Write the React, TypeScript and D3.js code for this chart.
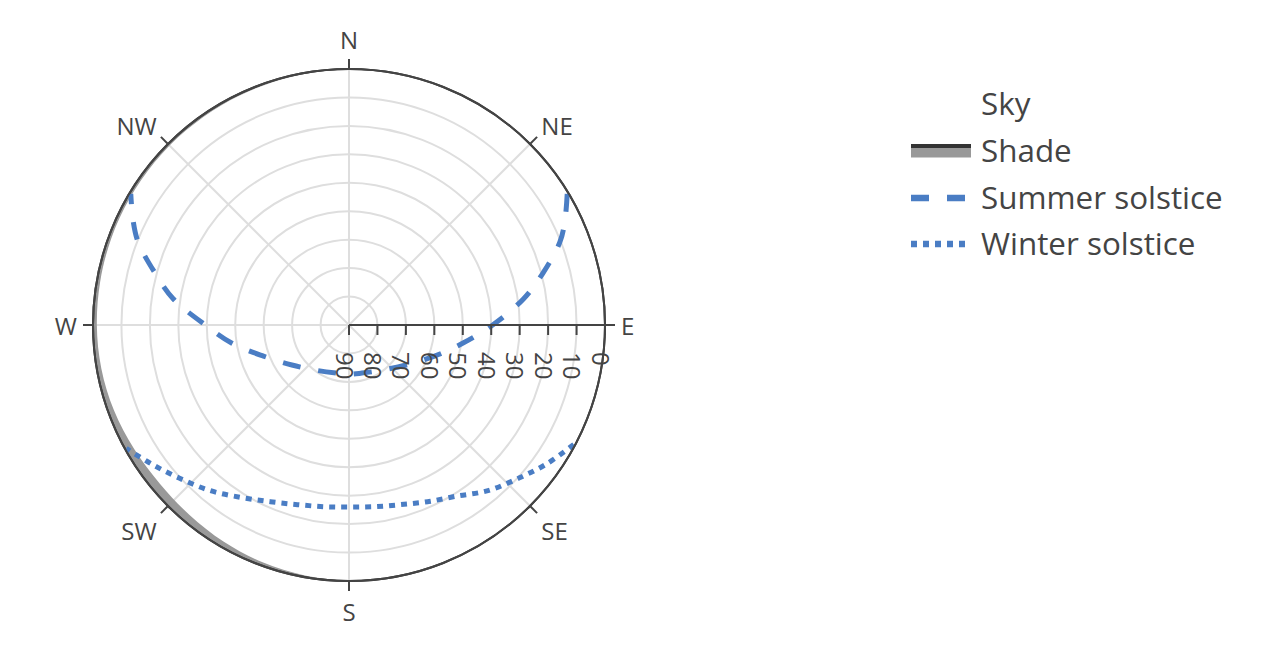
import React from "react";
import * as d3 from "d3";

// ---- data ----
const compassLabels = ["N", "NE", "E", "SE", "S", "SW", "W", "NW"];
const compassAngles = [0, 45, 90, 135, 180, 225, 270, 315];
const radialTicks = [90, 80, 70, 60, 50, 40, 30, 20, 10, 0];
const gridLevels = [80, 70, 60, 50, 40, 30, 20, 10];

// horizon profile (azimuth deg, elevation deg)
const horizonAz = [0, 10, 20, 30, 40, 50, 60, 70, 80, 90, 100, 110, 120, 130, 140, 150, 160, 170, 180, 190, 200, 210, 220, 230, 240, 250, 260, 270, 280, 290, 300, 310, 320, 330, 340, 350];
const horizonElev = [0.25, 0.05, 0, 0, 0, 0, 0, 0, 0, 0, 0, 0, 0, 0, 0, 0.4, 0.25, 0.1, 0.3, 0.6, 1.2, 2.0, 2.8, 3.2, 2.8, 2.1, 1.6, 1.35, 1.2, 1.05, 0.95, 0.85, 0.75, 0.65, 0.55, 0.4];

// summer solstice sun path
const summerAz = [59, 64, 68.5, 75, 81.5, 90, 99, 110, 125, 145, 165, 180, 195, 215, 235, 250, 261, 270, 278.5, 285, 291.5, 296, 301];
const summerElev = [0.5, 5.5, 10.3, 19.4, 28, 39.5, 49.4, 58, 65.5, 70.5, 72.5, 72.7, 72.5, 70.5, 65.5, 58, 48.5, 39.5, 27.5, 19.4, 10.3, 5.5, 0.5];

// winter solstice sun path
const winterAz = [118, 125, 132, 140, 148, 156, 164, 172, 180, 188, 196, 204, 212, 220, 228, 235, 241];
const winterElev = [0.5, 5, 9.6, 14, 19, 22, 24.3, 25.5, 26, 25.5, 24.3, 22, 18.5, 14, 9.6, 5, 0.5];

const legendNames = ["Sky", "Shade", "Summer solstice", "Winter solstice"];

// ---- layout ----
const W = 1280;
const H = 654;
const cx = 349;
const cy = 325;
const R = 256;
const FONT = "'Open Sans', 'DejaVu Sans', sans-serif";
const TEXT = "#444";
const BLUE = "#4a7dc4";
const GRID = "#dedede";
const AXIS = "#444";
const LEG_FS = 31.4;

export default function App() {
  const r = d3.scaleLinear().domain([90, 0]).range([0, R]);
  const rad = (deg: number) => (deg * Math.PI) / 180;

  const pts = (az: number[], el: number[]) => az.map((a, i) => [a, el[i]] as [number, number]);

  const line = d3
    .lineRadial<[number, number]>()
    .angle((d) => rad(d[0]))
    .radius((d) => r(d[1]))
    .curve(d3.curveCatmullRom.alpha(0.5));

  const closedLine = d3
    .lineRadial<[number, number]>()
    .angle((d) => rad(d[0]))
    .radius((d) => r(d[1]))
    .curve(d3.curveCatmullRomClosed.alpha(0.5));

  const fullCircle = d3.arc()({
    innerRadius: 0,
    outerRadius: r(0),
    startAngle: 0,
    endAngle: 2 * Math.PI,
  } as any) as string;

  const shadePath = fullCircle + closedLine(pts(horizonAz, horizonElev));

  const legendX = 911;
  const legendTextX = 981;
  const legendRows = [104, 151, 198, 244];

  return (
    <svg
      width={W}
      height={H}
      style={{ position: "absolute", left: 0, top: 0, background: "#fff" }}
      fontFamily={FONT}
    >
      <g transform={`translate(${cx},${cy})`}>
        {/* grid circles */}
        {gridLevels.map((g) => (
          <circle key={g} r={r(g)} fill="none" stroke={GRID} strokeWidth={2} />
        ))}
        {/* angular grid lines */}
        {compassAngles.map((a) => (
          <line
            key={a}
            x1={0}
            y1={0}
            x2={r(0) * Math.sin(rad(a))}
            y2={-r(0) * Math.cos(rad(a))}
            stroke={GRID}
            strokeWidth={2}
          />
        ))}

        {/* shade */}
        <path d={shadePath} fill="#999" fillRule="evenodd" stroke="none" />
        <circle r={r(0)} fill="none" stroke="#333" strokeWidth={2} />

        {/* sun paths */}
        <path
          d={line(pts(summerAz, summerElev)) || ""}
          fill="none"
          stroke={BLUE}
          strokeWidth={5}
          strokeDasharray="18,18"
        />
        <path
          d={line(pts(winterAz, winterElev)) || ""}
          fill="none"
          stroke={BLUE}
          strokeWidth={5}
          strokeDasharray="6,6"
        />

        {/* angular axis line + ticks */}
        <circle r={r(0)} fill="none" stroke={AXIS} strokeWidth={2} />
        {compassAngles.map((a) => {
          const s = Math.sin(rad(a));
          const c = Math.cos(rad(a));
          return (
            <line
              key={"t" + a}
              x1={r(0) * s}
              y1={-r(0) * c}
              x2={(r(0) + 10) * s}
              y2={-(r(0) + 10) * c}
              stroke={AXIS}
              strokeWidth={2}
            />
          );
        })}
        {compassAngles.map((a, i) => {
          const s = Math.sin(rad(a));
          const c = Math.cos(rad(a));
          const ex = r(0) * s;
          const ey = -r(0) * c;
          let anchor: "start" | "middle" | "end" = "middle";
          let x = ex;
          if (s > 0.3) {
            anchor = "start";
            x = ex + 16 * s;
          } else if (s < -0.3) {
            anchor = "end";
            x = ex + 16 * s;
          }
          const capCenter = ey - 30 * c + 1.5 + 2.5 * Math.abs(Math.sin(rad(2 * a)));
          return (
            <text
              key={"l" + a}
              x={x}
              y={capCenter + 0.357 * 24}
              textAnchor={anchor}
              fontSize={24}
              fill={TEXT}
            >
              {compassLabels[i]}
            </text>
          );
        })}

        {/* radial axis */}
        <line x1={0} y1={0} x2={r(0)} y2={0} stroke={AXIS} strokeWidth={2} />
        {radialTicks.map((t) => (
          <line key={"rt" + t} x1={r(t)} y1={0} x2={r(t)} y2={10} stroke={AXIS} strokeWidth={2} />
        ))}
        {radialTicks.map((t) => (
          <text
            key={"rl" + t}
            transform={`translate(${r(t) - 5},${27}) rotate(90)`}
            dy="0.35em"
            textAnchor="start"
            fontSize={24}
            fill={TEXT}
          >
            {t}
          </text>
        ))}
      </g>

      {/* legend */}
      <g>
        {/* Sky: invisible symbol */}
        <text x={legendTextX} y={legendRows[0] + 0.357 * LEG_FS} fontSize={LEG_FS} fill={TEXT}>
          {legendNames[0]}
        </text>

        <rect x={legendX} y={legendRows[1] - 5} width={60} height={11.5} fill="#999" />
        <line x1={legendX} x2={legendX + 60} y1={legendRows[1] - 5} y2={legendRows[1] - 5} stroke="#333" strokeWidth={4} />
        <text x={legendTextX} y={legendRows[1] + 0.357 * LEG_FS} fontSize={LEG_FS} fill={TEXT}>
          {legendNames[1]}
        </text>

        <line
          x1={legendX}
          x2={legendX + 60}
          y1={legendRows[2]}
          y2={legendRows[2]}
          stroke={BLUE}
          strokeWidth={6.5}
          strokeDasharray="18,18"
        />
        <text x={legendTextX} y={legendRows[2] + 0.357 * LEG_FS} fontSize={LEG_FS} fill={TEXT}>
          {legendNames[2]}
        </text>

        <line
          x1={legendX}
          x2={legendX + 60}
          y1={legendRows[3]}
          y2={legendRows[3]}
          stroke={BLUE}
          strokeWidth={6.5}
          strokeDasharray="6,6"
        />
        <text x={legendTextX} y={legendRows[3] + 0.357 * LEG_FS} fontSize={LEG_FS} fill={TEXT}>
          {legendNames[3]}
        </text>
      </g>
    </svg>
  );
}
